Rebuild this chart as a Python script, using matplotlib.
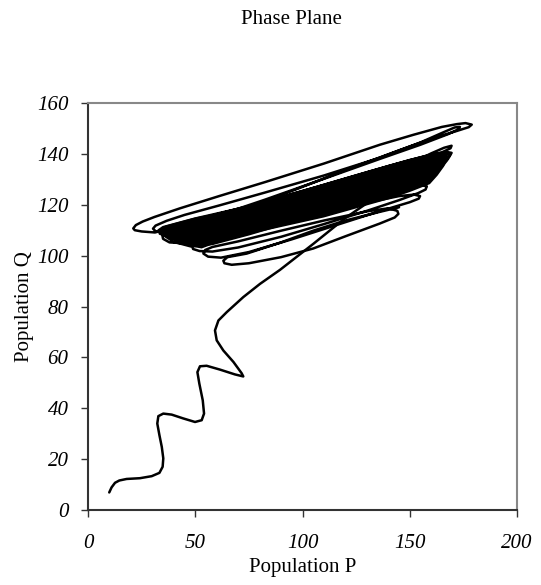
import matplotlib
matplotlib.use("Agg")
import matplotlib.pyplot as plt

# initial approach towards the cycle
init_p = [9.9, 11.0, 12.6, 14.6, 18.0, 24.2, 29.7, 33.3, 34.8, 35.1, 34.4, 33.3, 32.3, 32.8, 35.1,
          39.0, 44.4, 49.9, 53.0, 54.1, 53.5, 51.9, 51.0, 52.2, 55.3, 61.5, 68.5, 72.4, 71.6, 67.8,
          63.1, 60.0, 59.2, 60.8, 64.7, 72.4, 80.2, 89.5, 105.0, 120.0, 130.0, 140.0, 150.0, 155.0, 157.9]
init_q = [6.9, 8.9, 10.7, 11.6, 12.2, 12.5, 13.3, 14.6, 17.0, 20.3, 24.8, 29.4, 34.0, 36.9, 37.9,
          37.5, 36.0, 34.6, 35.3, 37.9, 43.1, 49.7, 54.2, 56.5, 56.7, 55.2, 53.3, 52.5, 53.8, 58.2,
          62.7, 66.7, 70.6, 74.5, 77.8, 83.7, 88.9, 94.4, 104.6, 114.8, 120.6, 124.4, 127.0, 127.8, 127.2]

# lower transient loops
low_p = [157.9, 157.4, 154.0, 145.0, 130.0, 110.0, 90.0, 70.0, 58.0, 52.0, 49.0, 48.6, 50.0, 55.0,
         70.0, 90.0, 110.0, 130.0, 145.0, 152.0, 154.8, 154.2, 150.0, 135.0, 115.0, 95.0, 75.0, 62.0,
         56.0, 53.8, 54.6, 58.0, 70.0, 90.0, 110.0, 130.0, 140.0, 144.2, 144.7, 143.0, 136.0, 120.0,
         105.0, 90.0, 75.0, 67.0, 63.6, 63.1, 65.0, 74.0, 90.0, 105.0, 120.0, 136.0, 145.0]
low_q = [127.2, 126.0, 124.6, 121.8, 117.6, 112.4, 107.4, 103.2, 101.6, 101.8, 102.6, 103.6, 104.6, 105.8,
         108.6, 112.8, 117.0, 120.8, 123.4, 124.0, 123.4, 122.4, 121.0, 117.2, 111.8, 106.4, 101.4, 99.2,
         99.6, 100.8, 102.2, 103.4, 105.6, 109.8, 113.8, 117.4, 118.6, 117.6, 116.4, 115.0, 112.6, 107.6,
         102.8, 99.4, 97.0, 96.4, 97.0, 98.0, 99.4, 100.8, 105.2, 109.8, 113.8, 117.2, 119.0]

# outer loops
out_p = [150.0, 160.0, 166.0, 169.5, 169.0, 165.0, 150.0, 120.0, 90.0, 65.0, 47.0, 36.0, 31.5, 30.3,
         31.5, 36.7, 45.0, 61.5, 82.5, 110.0, 136.1, 155.0, 166.0, 171.0, 173.4, 172.5, 168.0, 155.0,
         136.0, 110.0, 82.5, 60.0, 42.0, 31.2, 25.0, 21.8, 21.1, 22.3, 25.5, 31.0, 42.9, 61.5, 82.5, 110.0,
         136.1, 151.7, 165.0, 172.0, 176.0, 178.9, 177.5, 171.9, 161.0, 145.0, 120.0, 95.0, 75.0, 55.0, 40.0, 33.0]
out_q = [136.0, 140.2, 142.4, 143.2, 142.2, 140.6, 136.4, 128.6, 120.6, 114.2, 110.4, 109.2, 109.6, 110.6,
         111.8, 113.7, 116.0, 119.8, 124.8, 131.5, 138.5, 144.5, 148.6, 150.4, 150.6, 149.6, 147.8, 143.6,
         138.0, 130.2, 122.0, 115.6, 111.4, 109.1, 109.5, 110.0, 110.7, 112.0, 113.4, 115.2, 118.6, 123.5, 128.9, 136.2,
         143.6, 147.5, 150.6, 151.7, 152.1, 151.5, 150.5, 149.0, 146.2, 141.4, 133.6, 125.4, 119.0, 113.6, 110.8, 110.0]

# dense band loops
band_p = [36.0, 50.0, 75.0, 100.0, 125.0, 145.0, 160.0, 166.0, 168.8, 168.0, 164.0, 155.0, 140.0, 110.0,
          80.0, 60.0, 46.0, 38.0, 35.0, 34.6, 37.0, 50.0, 75.0, 100.0, 125.0, 145.0, 160.0, 166.0, 167.5,
          165.0, 161.0, 150.0, 130.0, 100.0, 75.0, 58.0, 48.0, 40.0, 36.0, 35.5, 38.0, 55.0, 80.0, 110.0,
          140.0, 160.0, 167.0, 169.5, 168.5, 163.0, 145.0, 120.0, 90.0, 65.0, 48.0, 38.0, 33.5, 33.0, 35.0,
          50.0, 75.0, 100.0, 130.0, 150.0, 162.0, 167.0]
band_q = [110.5, 113.8, 118.6, 124.4, 130.4, 135.4, 139.0, 140.0, 139.6, 138.2, 135.6, 132.6, 128.2, 120.0,
          112.2, 107.2, 104.8, 105.2, 106.6, 108.2, 109.8, 112.8, 117.4, 123.0, 129.0, 134.0, 137.5, 138.4, 137.6,
          135.0, 131.8, 127.6, 122.2, 114.6, 108.4, 104.6, 103.6, 105.4, 107.6, 109.4, 111.0, 115.2, 120.6, 127.8,
          135.2, 139.8, 140.8, 140.4, 139.0, 136.4, 131.0, 124.2, 116.2, 110.4, 107.4, 107.4, 108.6, 110.0, 111.2,
          114.6, 119.4, 125.4, 132.8, 137.6, 140.0, 140.4]

# solid core of the band
core_p = [32.5, 36.0, 50.0, 75.5, 110.0, 136.0, 150.0, 160.0, 167.5, 168.0, 166.0, 163.0, 159.4,
          150.0, 140.8, 110.0, 75.5, 60.0, 53.0, 45.0, 38.0, 33.0]
core_q = [110.0, 111.8, 115.0, 119.3, 127.5, 133.8, 137.0, 139.3, 140.2, 138.5, 135.0, 131.5, 128.1,
          125.0, 122.3, 115.0, 108.5, 105.0, 102.8, 104.0, 106.5, 109.0]

fig = plt.figure(figsize=(5.41, 5.85), dpi=100)
ax = fig.add_axes([88/541, 1-510/585, (517-88)/541, (510-103)/585])

lw = 1.8
ax.fill(core_p, core_q, color='black', lw=0)
for xs, ys in [(init_p, init_q), (low_p, low_q), (out_p, out_q), (band_p, band_q)]:
    ax.plot(xs, ys, color='black', lw=lw, solid_joinstyle='round', solid_capstyle='round')

ax.set_xlim(0, 200)
ax.set_ylim(0, 160)
ax.set_xticks([0, 50, 100, 150, 200])
ax.set_yticks(range(0, 161, 20))

font = 'Liberation Serif'
for lab in ax.get_xticklabels() + ax.get_yticklabels():
    lab.set_fontfamily(font)
    lab.set_fontstyle('italic')
    lab.set_fontsize(15)
ax.tick_params(direction='out', length=5, width=1, color='#333333', pad=9)
ax.tick_params(axis='x', pad=12)

ax.spines['left'].set_color('#333333')
ax.spines['bottom'].set_color('#333333')
ax.spines['top'].set_color('#888888')
ax.spines['right'].set_color('#888888')
for s in ax.spines.values():
    s.set_linewidth(1.5)

ax.set_xlabel('Population P', fontfamily=font, fontsize=15, labelpad=4)
ax.set_ylabel('Population Q', fontfamily=font, fontsize=15, labelpad=2)
fig.text(291/541, 1-20/585, 'Phase Plane', fontfamily=font, fontsize=15, ha='center', va='center')

fig.savefig('out.png', dpi=100)
